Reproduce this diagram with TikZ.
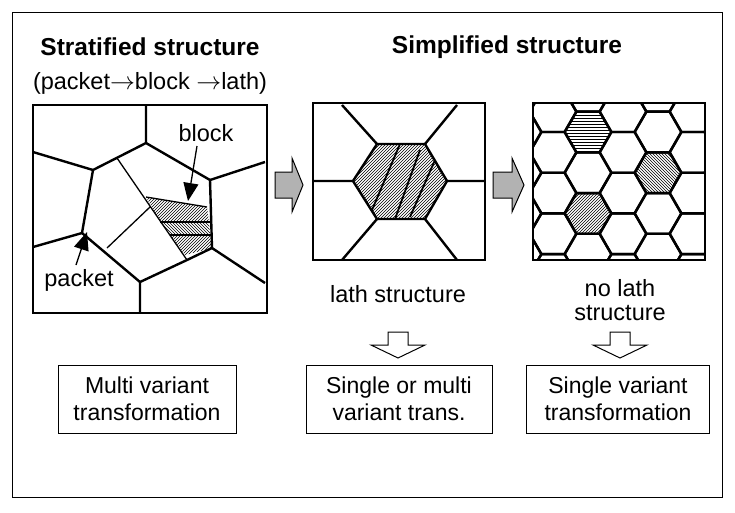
\documentclass[tikz,border=0pt]{standalone}
\usepackage{fontspec}
\setmainfont{Liberation Sans}
\usetikzlibrary{patterns,arrows.meta}
\begin{document}
\begin{tikzpicture}[x=1pt,y=-1pt,
 gb/.style={line width=2.4pt,line join=round},
 thin/.style={line width=1.3pt},
 frame/.style={line width=1pt},
 txt/.style={font=\fontsize{23.5}{24}\selectfont,align=center,inner sep=0pt},
 ttl/.style={font=\fontsize{24.5}{26}\selectfont\bfseries,inner sep=0pt},
 box/.style={draw,line width=1pt,minimum width=178pt,minimum height=68pt,font=\fontsize{23}{27}\selectfont,align=center,inner sep=1pt},
 garrow/.style={fill=black!30,draw,line width=1pt},
 oarrow/.style={fill=white,draw,line width=1pt}]
\useasboundingbox (0,0) rectangle (735,512);
\draw[frame] (12,12) rectangle (722,497);
\node[ttl] (t1) at (150,47) {Stratified structure};
\node[txt] (t2) at (150,83) {(packet\textbf{$\rightarrow$}block \textbf{$\rightarrow$}lath)};
\node[ttl] (t3) at (507,47) {Simplified structure};
% left panel
\begin{scope}
\clip (33,105) rectangle (267,313);
\fill[pattern=north east lines] (146,197) -- (207,207) -- (209,222) -- (160,222) -- cycle;
\fill[pattern=north west lines] (160,222) -- (209,222) -- (210,235) -- (170,235) -- cycle;
\fill[pattern=north east lines] (170,235) -- (210,235) -- (212,248) -- (185,255) -- cycle;
\draw[thin] (160,222) -- (210,222) (170,235) -- (211,235);
\draw[thin] (146,197) -- (207,207);
\draw[gb] (146,105) -- (146,143) (93,170) -- (33,152) (82,233) -- (33,247)
 (140,282) -- (140,313) (212,248) -- (265,283) (210,180) -- (265,162);
\draw[gb] (146,143) -- (210,180) -- (212,248) -- (187,260) -- (140,282) -- (82,233) -- (93,170) -- cycle;
\draw[thin] (117,158) -- (187,260) (107,248) -- (150,207);
\end{scope}
\draw[line width=1.5pt] (33,105) rectangle (267,313);
\node[txt] (blk) at (206,133) {block};
\node[txt] (pkt) at (79,280) {packet};
\draw[thin,-{Triangle[length=18pt,width=15pt]}] (197,146) -- (188,201);
\draw[thin,-{Triangle[length=18pt,width=15pt]}] (76,265) -- (87,232);
% arrows
\draw[garrow] (275,172) -- (292,172) -- (292,158) -- (303,185) -- (292,212) -- (292,198) -- (275,198) -- cycle;
\draw[garrow] (493,172) -- (512,172) -- (512,158) -- (524,185) -- (512,212) -- (512,198) -- (493,198) -- cycle;
% middle panel
\fill[pattern=north east lines] (377,144) -- (425,144) -- (447,181) -- (425,219) -- (377,219) -- (353,181) -- cycle;
\draw[line width=1.8pt] (372,210) -- (400,144) (395,219) -- (420,150) (410,217) -- (435,160);
\draw[gb] (377,144) -- (425,144) -- (447,181) -- (425,219) -- (377,219) -- (353,181) -- cycle;
\draw[gb] (377,144) -- (342,105) (425,144) -- (457,105) (353,181) -- (313,181) (447,181) -- (485,181)
 (377,219) -- (342,260) (425,219) -- (457,260);
\draw[line width=1.5pt] (313,103) rectangle (485,260);
% right panel
\begin{scope}
\clip (533,103) rectangle (705,260);
\fill[pattern=horizontal lines] (588,132) +(0:23.5) -- +(60:23.5) -- +(120:23.5) -- +(180:23.5) -- +(240:23.5) -- +(300:23.5) -- cycle;
\fill[pattern=north west lines] (658,173) +(0:23.5) -- +(60:23.5) -- +(120:23.5) -- +(180:23.5) -- +(240:23.5) -- +(300:23.5) -- cycle;
\fill[pattern=north east lines] (588,213) +(0:23.5) -- +(60:23.5) -- +(120:23.5) -- +(180:23.5) -- +(240:23.5) -- +(300:23.5) -- cycle;
\foreach \cx/\off in {518/0,553/20.35,588/0,623/20.35,658/0,693/20.35,728/0}{
 \foreach \k in {-2,...,5}{
  \draw[gb] (\cx,{132+\off+\k*40.7}) +(0:23.5) -- +(60:23.5) -- +(120:23.5) -- +(180:23.5) -- +(240:23.5) -- +(300:23.5) -- cycle;
 }}
\end{scope}
\draw[line width=1.5pt] (533,103) rectangle (705,260);
% bottom texts
\node[txt] (l1) at (398,294) {lath structure};
\node[txt] (l2) at (620,300) {no lath\\structure};
\draw[oarrow] (388,332) -- (408,332) -- (408,345) -- (425,345) -- (398,358) -- (371,345) -- (388,345) -- cycle;
\draw[oarrow] (610,332) -- (630,332) -- (630,345) -- (647,345) -- (620,358) -- (593,345) -- (610,345) -- cycle;
\node[box] (b1) at (147,399) {Multi variant\\transformation};
\node[box,minimum width=186pt] (b2) at (399,399) {Single or multi\\variant trans.};
\node[box,minimum width=183pt] (b3) at (618,399) {Single variant\\transformation};
\end{tikzpicture}
\end{document}
